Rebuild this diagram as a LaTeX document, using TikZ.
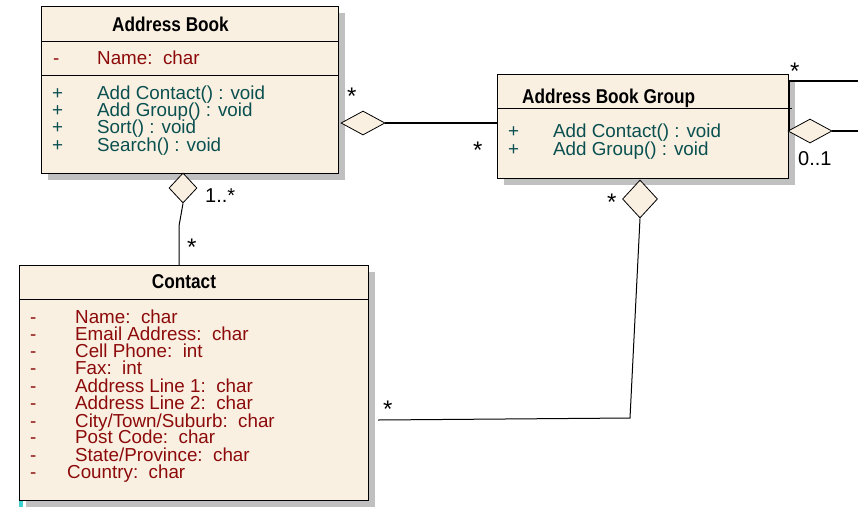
\documentclass[tikz,border=0pt]{standalone}
\usepackage{fontspec}
\setmainfont{Liberation Sans}
\newfontfamily\titlefont[FakeStretch=0.86]{Liberation Sans Bold}
\usetikzlibrary{shapes.geometric,shadows}
\definecolor{boxfill}{RGB}{250,240,226}
\definecolor{shadowgray}{RGB}{192,192,192}
\definecolor{attrred}{RGB}{140,10,10}
\definecolor{methteal}{RGB}{10,80,80}
\definecolor{markcyan}{RGB}{64,208,208}
\begin{document}
\begin{tikzpicture}[x=1pt,y=-1pt,
  umlbox/.style={draw=black, line width=1.2pt, fill=boxfill, inner sep=0pt, anchor=north west,
    drop shadow={shadow xshift=6pt, shadow yshift=-6pt, fill=shadowgray, opacity=1}},
  divider/.style={draw=black, line width=0.9pt},
  agg/.style={shape=diamond, draw=black, line width=0.8pt, fill=boxfill, inner sep=0pt},
  conn/.style={draw=black, line width=1.2pt},
  title/.style={inner sep=0pt, anchor=base west, font=\titlefont\fontsize{20}{22}\selectfont},
  attr/.style={inner sep=0pt, anchor=base west, text=attrred, font=\fontsize{18.8}{20}\selectfont},
  meth/.style={inner sep=0pt, anchor=base west, text=methteal, font=\fontsize{18.8}{20}\selectfont},
  mult/.style={inner sep=0pt, anchor=base west, text=black, font=\fontsize{20}{22}\selectfont},
  star/.style={inner sep=0pt, anchor=base west, text=black, font=\fontsize{24}{26}\selectfont}]
\path[use as bounding box] (0,0) rectangle (858,507);

% ---------- Address Book ----------
\node[umlbox, minimum width=297pt, minimum height=167pt] (ab) at (41,6) {};
\draw[divider] (ab.west |- 0,41) -- (ab.east |- 0,41);
\draw[divider] (ab.west |- 0,75) -- (ab.east |- 0,75);
\node[title] (abt) at (112,31) {Address Book};
\node[attr] (aba1s) at (53,64) {-};
\node[attr] (aba1) at (97,64) {Name:\ \ char};
\node[meth] (abm1s) at (52,99) {+};
\node[meth] (abm1) at (97,99) {Add Contact() : void};
\node[meth] (abm2s) at (52,116) {+};
\node[meth] (abm2) at (97,116) {Add Group() : void};
\node[meth] (abm3s) at (52,133) {+};
\node[meth] (abm3) at (97,133) {Sort() : void};
\node[meth] (abm4s) at (52,151) {+};
\node[meth] (abm4) at (97,151) {Search() : void};

% ---------- Address Book Group ----------
\node[umlbox, minimum width=291pt, minimum height=104pt] (abg) at (497,74) {};
\draw[divider] (abg.west |- 0,108) -- (792,108);
\node[title] (abgt) at (522,103) {Address Book Group};
\node[meth] (abgm1s) at (508,137) {+};
\node[meth] (abgm1) at (553,137) {Add Contact() : void};
\node[meth] (abgm2s) at (508,155) {+};
\node[meth] (abgm2) at (553,155) {Add Group() : void};

% ---------- Contact ----------
\node[umlbox, minimum width=349pt, minimum height=235pt] (ct) at (19,265) {};
\draw[divider] (ct.west |- 0,299) -- (ct.east |- 0,299);
\node[title, anchor=base] (ctt) at (184,288) {Contact};
\foreach \i/\y/\x/\t in {1/323/75/{Name:\ \ char},
  2/340/75/{Email Address:\ \ char},
  3/357/75/{Cell Phone:\ \ int},
  4/374/75/{Fax:\ \ int},
  5/392/75/{Address Line 1:\ \ char},
  6/409/75/{Address Line 2:\ \ char},
  7/427/75/{City/Town/Suburb:\ \ char},
  8/443/75/{Post Code:\ \ char},
  9/461/75/{State/Province:\ \ char},
  10/478/67/{Country:\ \ char}} {
  \node[attr] (cts\i) at (30,\y) {-};
  \node[attr] (cta\i) at (\x,\y) {\t};
}
\fill[markcyan] (19,501) rectangle (23,507);

% ---------- Connectors ----------
% Address Book <>-- Address Book Group
\node[agg, minimum width=44pt, minimum height=24pt] (d1) at (363,123) {};
\draw[conn] (d1.east) -- (abg.west |- d1.east);
\node[star] (m1) at (347,104) {*};
\node[star] (m2) at (473,158) {*};

% Self association of Address Book Group
\coordinate (selfend1) at (858,81);
\coordinate (selfend2) at (858,131);
\node[agg, minimum width=44pt, minimum height=24pt] (d2) at (810,131) {};
\draw[conn] (abg.east |- selfend1) -- (selfend1);
\draw[conn] (abg.east |- selfend1) -- (abg.east |- d2.west);
\draw[conn] (d2.east) -- (selfend2);
\node[star] (m3) at (790,79) {*};
\node[mult] (m4) at (798,165) {0..1};

% Address Book <>-- Contact
\node[agg, minimum width=28pt, minimum height=30pt] (d3) at (183,188) {};
\coordinate (k1) at (179,226);
\draw[conn, line width=1pt] (d3.south) -- (k1) -- (k1 |- ct.north);
\node[mult] (m5) at (205,202) {1..*};
\node[star] (m6) at (187,255) {*};

% Address Book Group <>-- Contact
\node[agg, minimum width=35pt, minimum height=38pt] (d4) at (640,199) {};
\coordinate (k2) at (630,418);
\coordinate (k3) at (378,420);
\draw[conn, line width=1pt] (d4.south) -- (k2) -- (k3);
\node[star] (m7) at (607,210) {*};
\node[star] (m8) at (383,417) {*};
\end{tikzpicture}
\end{document}
